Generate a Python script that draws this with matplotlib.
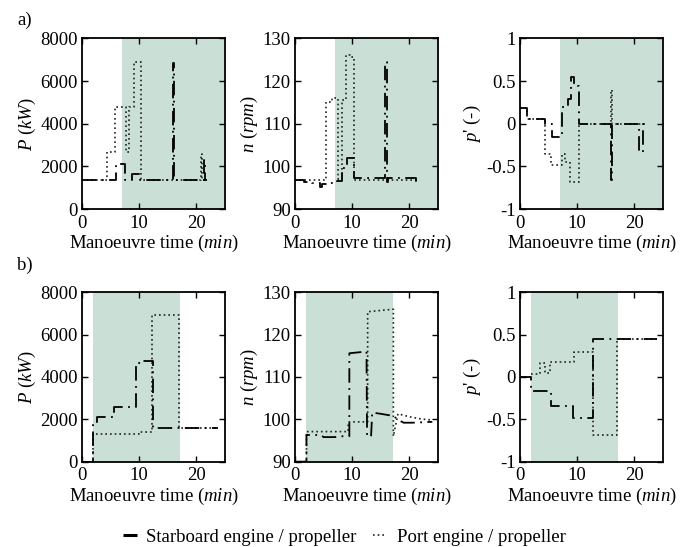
import matplotlib
matplotlib.use("Agg")
import matplotlib.pyplot as plt

plt.rcParams["font.family"] = ["Liberation Serif", "DejaVu Serif"]
plt.rcParams["mathtext.fontset"] = "custom"
plt.rcParams["mathtext.rm"] = "Liberation Serif"
plt.rcParams["mathtext.it"] = "Liberation Serif:italic"
plt.rcParams["font.size"] = 13.5

# ---- Manoeuvre a) ----
a_P_stb_t = [0, 6.0, 7.5, 8.8, 10.1, 15.9, 16.1, 21.3, 21.5, 21.8]
a_P_stb = [1350, 2100, 1350, 1640, 1350, 6850, 1350, 2300, 1350, 1350]
a_P_prt_t = [0, 4.3, 5.8, 7.7, 8.3, 9.15, 10.25, 20.8, 21.0, 21.8]
a_P_prt = [1350, 2690, 4770, 2690, 4770, 6900, 1350, 2600, 1350, 1350]

a_n_stb_t = [0, 1.5, 3.0, 4.3, 4.7, 6.0, 7.3, 8.3, 9.1, 10.4, 15.8, 16.0, 16.3, 21.2, 21.6]
a_n_stb = [96.8, 96.4, 96.2, 95.2, 95.8, 96.0, 96.5, 99.5, 102.0, 97.3, 124.5, 96.3, 97.2, 96.2, 96.2]
a_n_prt_t = [0, 5.5, 6.5, 7.5, 8.3, 9.0, 9.6, 10.4, 21.6]
a_n_prt = [96.8, 115.1, 116.0, 97.0, 115.5, 126.0, 125.6, 96.8, 96.8]

a_p_stb_t = [0, 1.3, 4.4, 5.6, 7.4, 8.4, 9.0, 9.5, 10.4, 15.9, 16.1, 20.8, 21.5, 21.9]
a_p_stb = [0.18, 0.05, 0.0, -0.16, 0.19, 0.29, 0.55, 0.44, 0.0, -0.66, 0.0, -0.33, 0.0, 0.0]
a_p_prt_t = [0, 1.3, 4.4, 5.5, 7.4, 7.8, 8.7, 10.4, 15.9, 16.1, 21.9]
a_p_prt = [0.18, 0.05, -0.35, -0.48, -0.36, -0.45, -0.68, 0.0, 0.40, 0.0, 0.0]

# ---- Manoeuvre b) ----
b_P_stb_t = [0, 1.9, 2.6, 5.6, 9.4, 10.5, 12.5, 23.8]
b_P_stb = [0, 1890, 2100, 2600, 4650, 4770, 1610, 1610]
b_P_prt_t = [0, 1.9, 10.0, 12.3, 17.0, 23.8]
b_P_prt = [0, 1310, 1380, 6930, 1610, 1610]

b_n_stb_t = [0, 2.0, 2.0, 4.5, 5.0, 7.0, 7.5, 9.5, 9.5, 12.5, 12.6, 13.3, 13.5, 15.0,
             17.2, 18.0, 19.0, 20.5, 24.0]
b_n_stb = [90, 90, 96.3, 96.3, 95.8, 95.8, 96.0, 96.0, 115.6, 116.0, 96.0, 96.0, 101.6,
           101.3, 100.8, 99.9, 99.2, 99.2, 99.4]
b_n_prt_t = [0, 2.0, 2.0, 9.3, 9.3, 12.7, 12.7, 17.2, 17.2, 18.0, 20.0, 22.0, 24.0]
b_n_prt = [90, 90, 97.1, 97.1, 99.4, 99.4, 125.4, 126.0, 96.0, 101.3, 100.6, 100.1, 99.8]

b_p_stb_t = [0, 2.0, 5.5, 9.3, 12.7, 23.9]
b_p_stb = [0, -0.17, -0.34, -0.49, 0.445, 0.445]
b_p_prt_t = [0, 2.0, 3.5, 4.3, 5.2, 9.4, 12.7, 16.9, 23.9]
b_p_prt = [0, 0.04, 0.17, 0.05, 0.18, 0.29, -0.685, 0.445, 0.445]

# manoeuvre windows (min)
a_window = (7.0, 25.0)
b_window = (2.0, 17.1)

x_ticks = [0, 10, 20]
P_ticks = [0, 2000, 4000, 6000, 8000]
n_ticks = [90, 100, 110, 120, 130]
p_ticks = [-1, -0.5, 0, 0.5, 1]
p_ticklabels = ["-1", "-0.5", "0", "0.5", "1"]

shade = "#cadfd5"
stb_style = dict(color="black", lw=1.3, dashes=(8, 3, 1, 3))
prt_style = dict(color="#222222", lw=1.2, linestyle=(0, (1, 1.8)))

fig = plt.figure(figsize=(6.88, 5.47), dpi=100)

lefts = [0.1192, 0.4288, 0.7558]
width = 0.2078
rows = [(0.6179, 0.312), (0.156, 0.3097)]

panels = [
    [(a_P_stb_t, a_P_stb, a_P_prt_t, a_P_prt, "steps-post"),
     (a_n_stb_t, a_n_stb, a_n_prt_t, a_n_prt, "steps-post"),
     (a_p_stb_t, a_p_stb, a_p_prt_t, a_p_prt, "steps-post")],
    [(b_P_stb_t, b_P_stb, b_P_prt_t, b_P_prt, "steps-post"),
     (b_n_stb_t, b_n_stb, b_n_prt_t, b_n_prt, "default"),
     (b_p_stb_t, b_p_stb, b_p_prt_t, b_p_prt, "steps-post")],
]
windows = [a_window, b_window]
ylims = [(0, 8000), (90, 130), (-1, 1)]
yticks = [P_ticks, n_ticks, p_ticks]
ylabels = [r"$P$ ($kW$)", r"$n$ ($rpm$)", r"$p$' (-)"]

for r, (bottom, height) in enumerate(rows):
    for c in range(3):
        ax = fig.add_axes([lefts[c], bottom, width, height])
        ts, vs, tp, vp, ds = panels[r][c]
        ax.axvspan(*windows[r], color=shade, lw=0, zorder=0)
        ax.plot(tp, vp, drawstyle=ds, **prt_style)
        ax.plot(ts, vs, drawstyle=ds, **stb_style)
        ax.set_xlim(0, 25)
        ax.set_ylim(*ylims[c])
        ax.set_xticks(x_ticks)
        ax.set_yticks(yticks[c])
        if c == 2:
            ax.set_yticklabels(p_ticklabels)
        ax.tick_params(direction="in", top=True, right=True, length=4, width=1,
                       labelsize=13.5, pad=3)
        ax.tick_params(axis="x", pad=4)
        for s in ax.spines.values():
            s.set_linewidth(1.3)
        ax.set_xlabel(r"Manoeuvre time ($min$)", fontsize=13.5, labelpad=1)
        ax.set_ylabel(ylabels[c], fontsize=13.5, labelpad=2)

fig.text(0.025, 0.963, "a)", fontsize=13.5, ha="left", va="center")
fig.text(0.025, 0.515, "b)", fontsize=13.5, ha="left", va="center")

h1, = plt.plot([], [], color="black", lw=2.2, solid_capstyle="butt")
h2, = plt.plot([], [], **prt_style)
fig.legend([h1, h2], ["Starboard engine / propeller", "Port engine / propeller"],
           loc="center", bbox_to_anchor=(0.5, 0.018), ncol=2, frameon=False,
           handlelength=0.75, handletextpad=0.5, columnspacing=0.9, fontsize=13.5)

fig.savefig("out.png", dpi=100)
